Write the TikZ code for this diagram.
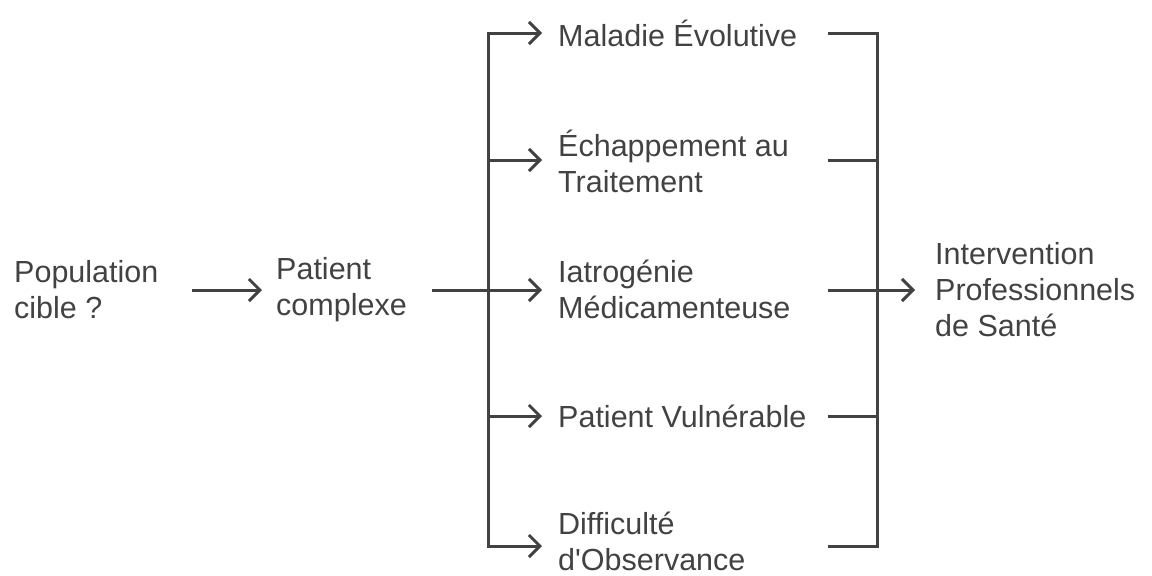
\documentclass[tikz,border=0pt]{standalone}
\usepackage{fontspec}
\setmainfont{Liberation Sans}
\usetikzlibrary{arrows.meta}
\definecolor{ink}{RGB}{66,66,66}
\begin{document}
\begin{tikzpicture}[x=1pt,y=-1pt,
  lbl/.style={anchor=west,inner sep=0pt,align=left,text=ink,
    font=\fontsize{30.5}{36}\selectfont},
  wire/.style={draw=ink,line width=3pt},
  arr/.style={wire,-{Straight Barb[length=11pt,width=22pt,line width=3pt]}}]
\useasboundingbox (0,0) rectangle (1152,576);
% nodes
\node[lbl] (pop) at (14,290) {Population\\cible ?};
\node[lbl] (pat) at (276,290) {Patient\\complexe};
\node[lbl] (m1) at (558,33) {Maladie Évolutive};
\node[lbl] (m2) at (558,161) {Échappement au\\Traitement};
\node[lbl] (m3) at (558,289) {Iatrogénie\\Médicamenteuse};
\node[lbl] (m4) at (558,416) {Patient Vulnérable};
\node[lbl] (m5) at (558,541) {Difficulté\\d\textquotesingle Observance};
\node[lbl] (int) at (935,290) {Intervention\\Professionnels\\de Santé};
% coordinates
\coordinate (lb1) at (488,33);
\coordinate (lb5) at (488,546);
\coordinate (lbm) at (488,290);
\coordinate (rb1) at (877,33);
\coordinate (rb5) at (877,546);
\foreach \i/\y in {1/33,2/160,3/290,4/416,5/546}{
  \coordinate (s\i) at (488,\y);
  \coordinate (e\i) at (828,\y);
  \coordinate (r\i) at (877,\y);
}
% connectors
\draw[arr] (192,290) coordinate (a0) -- (262,290) coordinate (a1);
\draw[wire] (432,290) coordinate (p0) -- (lbm);
\draw[wire,line cap=rect] (lb1) -- (lb5);
\draw[wire,line cap=rect] (rb1) -- (rb5);
\foreach \i/\y in {1/33,2/160,3/290,4/416,5/546}{
  \draw[arr] (s\i) -- (542,\y);
}
\foreach \i in {1,2,4,5}{
  \draw[wire] (e\i) -- (r\i);
}
\draw[arr] (e3) -- (915,290);
\end{tikzpicture}
\end{document}
